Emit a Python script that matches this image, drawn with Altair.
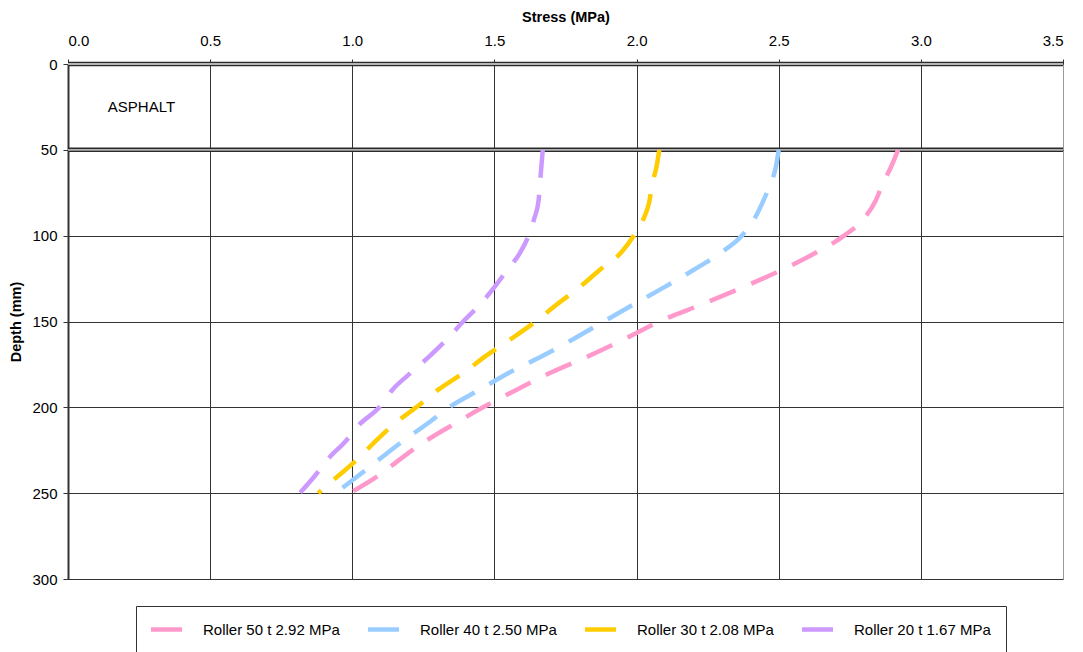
import altair as alt
import pandas as pd

# ---- data ----
depths = [50, 60, 70, 80, 90, 100, 110, 120, 130, 140, 150, 160, 170, 180, 190, 200, 210, 220, 230, 240, 250]
roller50 = [2.92, 2.895, 2.865, 2.84, 2.80, 2.73, 2.63, 2.51, 2.375, 2.23, 2.08, 1.96, 1.833, 1.695, 1.575, 1.46, 1.355, 1.255, 1.17, 1.09, 0.99]
roller40 = [2.50, 2.49, 2.47, 2.445, 2.415, 2.37, 2.295, 2.20, 2.098, 1.99, 1.885, 1.78, 1.67, 1.55, 1.445, 1.34, 1.26, 1.175, 1.097, 1.02, 0.94]
roller30 = [2.08, 2.07, 2.055, 2.045, 2.025, 1.99, 1.945, 1.87, 1.80, 1.72, 1.645, 1.56, 1.47, 1.39, 1.30, 1.225, 1.145, 1.08, 1.02, 0.95, 0.88]
roller20 = [1.67, 1.665, 1.66, 1.655, 1.64, 1.62, 1.59, 1.545, 1.50, 1.45, 1.39, 1.335, 1.273, 1.205, 1.14, 1.095, 1.025, 0.975, 0.915, 0.868, 0.815]

series_labels = ["Roller 50 t 2.92 MPa", "Roller 40 t 2.50 MPa", "Roller 30 t 2.08 MPa", "Roller 20 t 1.67 MPa"]
series_colors = ["#FF99CC", "#99CCFF", "#FFCC00", "#CC99FF"]

x_ticks = [0.0, 0.5, 1.0, 1.5, 2.0, 2.5, 3.0, 3.5]
y_ticks = [0, 50, 100, 150, 200, 250, 300]

layer_depths = [0, 50]
layer_inner = ["#e4e4e4", "#b0b0b0"]

annot_x = [0.14]
annot_y = [25]
annot_text = ["ASPHALT"]

FONT = "Liberation Sans, Arial, sans-serif"

rows = []
for lab, vals in zip(series_labels, [roller50, roller40, roller30, roller20]):
    for d, v in zip(depths, vals):
        rows.append({"series": lab, "depth": d, "stress": v})
df = pd.DataFrame(rows)
layers_df = pd.DataFrame({"depth": layer_depths, "inner": layer_inner})
annot_df = pd.DataFrame({"stress": annot_x, "depth": annot_y, "text": annot_text})

x_scale = alt.Scale(domain=[0, 3.5], nice=False, zero=False, padding=0)
y_scale = alt.Scale(domain=[0, 300], nice=False, reverse=True, padding=0)
color_scale = alt.Scale(domain=series_labels, range=series_colors)

x_axis = alt.Axis(
    orient="top", title="Stress (MPa)", values=x_ticks, format=".1f",
    domain=False, ticks=True, tickSize=5, tickColor="#333333",
    labelPadding=10.5, labelFontSize=15, labelColor="black", labelFont=FONT,
    titleFont=FONT, titleFontSize=14.5, titleFontWeight="bold", titleColor="black",
    titlePadding=9, grid=True,
    gridColor=alt.condition("datum.value == 3.5", alt.value("#999999"), alt.value("#333333")),
    gridWidth=1,
)
y_axis = alt.Axis(
    title="Depth (mm)", values=y_ticks, format="d",
    domain=True, domainColor="#333333", domainWidth=2,
    ticks=True, tickSize=5, tickColor="#333333",
    labelPadding=6, labelFontSize=15, labelColor="black", labelFont=FONT,
    titleFont=FONT, titleFontSize=14.5, titleFontWeight="bold", titleColor="black",
    titlePadding=8, grid=True, gridColor="#333333", gridWidth=1,
)

# dashed curves (no legend of their own)
lines = alt.Chart(df).mark_line(
    strokeWidth=4.5, strokeDash=[28, 17], strokeCap="butt", interpolate="monotone"
).encode(
    x=alt.X("stress:Q", scale=x_scale, axis=x_axis),
    y=alt.Y("depth:Q", scale=y_scale, axis=y_axis),
    color=alt.Color("series:N", scale=color_scale, legend=None),
    order=alt.Order("depth:Q"),
)

# empty filled layer carrying the legend: solid bar-shaped symbols
legend_layer = alt.Chart(df).transform_filter("false").mark_bar().encode(
    x=alt.X("stress:Q", scale=x_scale, axis=x_axis),
    y=alt.Y("depth:Q", scale=y_scale, axis=y_axis),
    color=alt.Color(
        "series:N",
        scale=color_scale,
        legend=alt.Legend(
            orient="none", legendX=68, legendY=542, direction="horizontal", columns=4,
            title=None, symbolType="M-1,-0.145H1V0.145H-1Z", symbolSize=961,
            symbolStrokeWidth=0, symbolOpacity=1,
            labelFontSize=15, labelFont=FONT, labelColor="black",
            labelOffset=21, columnPadding=28, padding=15, clipHeight=17, symbolOffset=0,
            strokeColor="#333333", fillColor="white", labelLimit=300,
        ),
    ),
)

outer = alt.Chart(layers_df).mark_rule(color="#2a2a2a", strokeWidth=4.5).encode(
    y=alt.Y("depth:Q", scale=y_scale, axis=y_axis)
)
inner = alt.Chart(layers_df).mark_rule(strokeWidth=1.6).encode(
    y=alt.Y("depth:Q", scale=y_scale, axis=y_axis),
    color=alt.Color("inner:N", scale=None, legend=None),
)

label = alt.Chart(annot_df).mark_text(
    align="left", baseline="middle", fontSize=15, font=FONT, color="black"
).encode(
    x=alt.X("stress:Q", scale=x_scale, axis=x_axis),
    y=alt.Y("depth:Q", scale=y_scale, axis=y_axis),
    text="text:N",
)

chart = alt.layer(outer, inner, label, lines, legend_layer).resolve_scale(color="independent").properties(
    width=995, height=515,
    autosize=alt.AutoSizeParams(type="none"),
    padding={"left": 60, "top": 56, "right": 12, "bottom": 80},
).configure_view(stroke=None).configure(background="white")

chart.save("out.html", embed_options={"renderer": "svg", "actions": False})
